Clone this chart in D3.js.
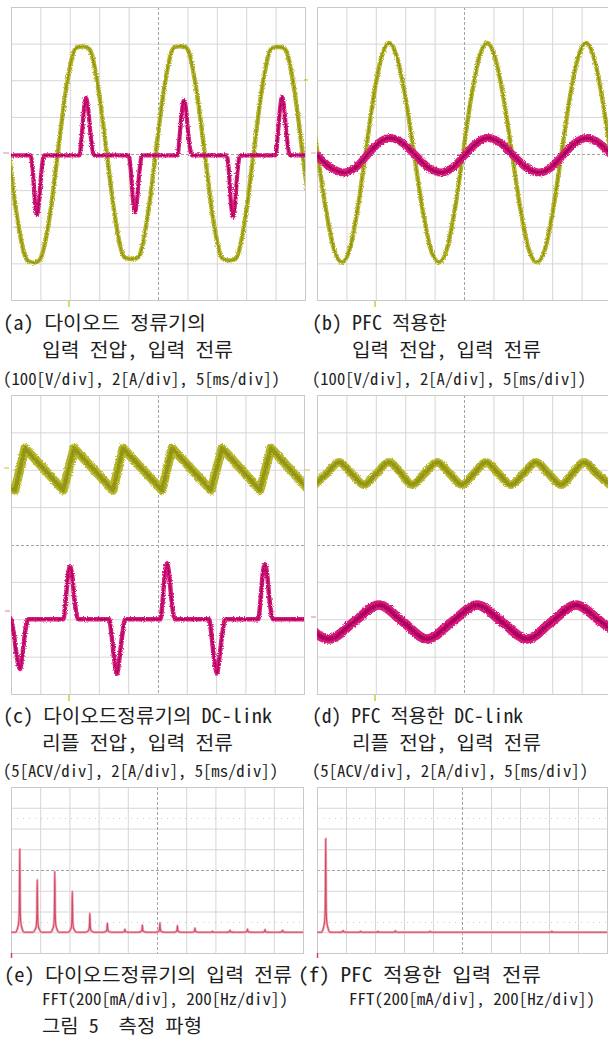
<!DOCTYPE html>
<html><head><meta charset="utf-8">
<script src="https://cdn.jsdelivr.net/npm/d3@7/dist/d3.min.js"></script>
<style>html,body{margin:0;padding:0;background:#fff}svg{display:block}</style>
</head><body>
<script>
// ================= DATA =================
// time in ms (5 ms/div), voltage in V, current in A
const voltA = [[-0.36,0],[1.0,-170],[2.4,-280],[2.95,-294],[3.8,-298],[4.65,-294],[5.2,-280],[6.6,-170],[7.96,0],
 [9.32,170],[10.72,280],[11.27,290],[12.12,292],[12.97,290],[13.52,280],[14.92,170],[16.29,0],
 [17.65,-170],[19.05,-278],[19.6,-286],[20.45,-288],[21.3,-286],[21.85,-278],[23.25,-170],[24.61,0],
 [25.97,170],[27.37,280],[27.92,291],[28.77,293],[29.62,291],[30.17,280],[31.57,170],[32.94,0],
 [34.3,-170],[35.7,-280],[36.25,-290],[37.1,-292],[37.95,-290],[38.5,-280],[39.9,-170],[41.26,0],
 [42.62,170],[44.02,280],[44.57,289],[45.42,291],[46.27,289],[46.82,280],[48.22,170],[49.59,0],[50.95,-170]];
const currA = [[0,-0.1],[3.32,-0.1],[3.67,-0.8],[4.07,-2.6],[4.42,-3.36],[4.77,-2.6],[5.17,-1.0],[5.62,-0.1],
 [11.66,-0.1],[12.01,0.9],[12.41,2.4],[12.76,3.04],[13.11,2.5],[13.51,1.1],[14.11,-0.1],
 [19.99,-0.1],[20.34,-0.8],[20.74,-2.5],[21.09,-3.2],[21.44,-2.5],[21.84,-1.0],[22.29,-0.1],
 [28.32,-0.1],[28.67,0.9],[29.07,2.3],[29.42,2.92],[29.77,2.4],[30.17,1.0],[30.77,-0.1],
 [36.66,-0.1],[37.01,-0.8],[37.41,-2.7],[37.76,-3.46],[38.11,-2.7],[38.51,-1.0],[38.96,-0.1],
 [44.99,-0.1],[45.34,0.9],[45.74,2.4],[46.09,3.1],[46.44,2.5],[46.84,1.1],[47.44,-0.1],[50,-0.1]];
const voltB = [[-1.28,150],[0.1,0],[1.48,-150],[2.87,-260],[4.25,-297],[5.58,-260],[6.92,-150],[8.25,0],
 [9.58,150],[10.91,260],[12.24,302],[13.66,260],[15.08,150],[16.5,0],[17.92,-150],[19.33,-260],[20.75,-297],
 [22.11,-260],[23.47,-150],[24.83,0],[26.19,150],[27.55,260],[28.91,302],[30.33,260],[31.74,150],[33.16,0],
 [34.58,-150],[35.99,-260],[37.41,-297],[38.8,-260],[40.19,-150],[41.58,0],[42.97,150],[44.36,260],[45.75,302],
 [47.13,260],[48.52,150],[49.9,0],[51.3,-150]];
const currB = [[0.0,-0.1],[2.3,-0.76],[4.6,-1.04],[6.6,-0.76],[8.5,-0.1],[10.45,0.56],[12.4,0.84],[14.6,0.56],
 [16.75,-0.1],[18.9,-0.76],[21.1,-1.04],[23.1,-0.76],[25.1,-0.1],[27.1,0.56],[29.1,0.84],[31.25,0.56],
 [33.4,-0.1],[35.6,-0.76],[37.76,-1.04],[39.8,-0.76],[41.8,-0.1],[43.85,0.56],[45.9,0.84],[48.0,0.56],[50.1,-0.1]];
// DC-link ripple voltage (AC, V) and input current (A)
const rippleC = [[-0.5,-2.3],[0.68,-2.75],[2.39,2.9],[8.92,-2.75],[10.75,2.9],[17.41,-2.75],[19.11,2.9],
 [25.77,-2.75],[27.47,2.9],[34.13,-2.75],[36.01,2.9],[42.49,-2.75],[44.37,2.9],[50.85,-2.75]];
const currC = [[0,0],[0.45,-0.7],[0.95,-1.9],[1.54,-2.66],[1.95,-1.9],[2.45,-0.6],[2.95,0],
 [8.95,0],[9.3,0.9],[9.7,2.3],[10.07,2.84],[10.42,2.36],[10.82,1.1],[11.42,0],
 [16.75,0],[17.15,-0.8],[17.6,-2.1],[18.09,-2.92],[18.5,-2.1],[19.0,-0.8],[19.5,0],
 [25.5,0],[25.85,0.9],[26.25,2.4],[26.62,3.0],[26.97,2.44],[27.37,1.1],[27.97,0],
 [33.8,0],[34.2,-0.8],[34.65,-2.1],[35.15,-2.9],[35.55,-2.1],[36.05,-0.8],[36.55,0],
 [42.2,0],[42.55,0.9],[42.95,2.4],[43.34,2.94],[43.7,2.4],[44.1,1.1],[44.7,0],[50,0]];
const rippleD = [[-0.4,-1.5],[1.67,0],[3.74,1.5],[5.87,0],[7.99,-1.5],[10.12,0],[12.24,1.5],[14.33,0],
 [16.16,-1.5],[18.29,0],[20.41,1.5],[22.54,0],[24.66,-1.5],[26.7,0],[28.74,1.5],[30.87,0],[32.99,-1.5],
 [35.12,0],[37.24,1.5],[39.37,0],[41.5,-1.5],[43.45,0],[45.41,1.5],[47.6,0],[49.8,-1.5]];
const currD = [[-2.2,0],[2.04,-0.92],[6.29,0],[10.54,0.9],[14.62,0],[18.71,-0.92],[22.96,0],[27.21,0.9],
 [31.46,0],[35.71,-0.92],[39.88,0],[44.05,0.9],[48.3,0],[52.55,-0.92]];
// FFT of input current: harmonic frequency (Hz) and amplitude (mA)
const fftFreqE = [60,180,300,420,540,660,780,900,1020,1140,1260,1380,1500,1620,1740,1860];
const fftAmpE  = [800,508,588,394,184,88,28,70,92,64,40,8,20,30,26,20];
const fftFreqF = [60,180,300,420,540,780,1620];
const fftAmpF  = [900,16,10,8,14,10,8];
// grid (tick) values
const timeGrid = [5,10,15,20,30,35,40,45];
const freqGrid = [200,400,600,800,1200,1400,1600,1800];
const divGrid = [-3,-2,-1,1,2,3];
// caption texts
const captionText = [
 "(a) 다이오드 정류기의","입력 전압, 입력 전류","(100[V/div], 2[A/div], 5[ms/div])",
 "(b) PFC 적용한","입력 전압, 입력 전류","(100[V/div], 2[A/div], 5[ms/div])",
 "(c) 다이오드정류기의 DC-link","리플 전압, 입력 전류","(5[ACV/div], 2[A/div], 5[ms/div])",
 "(d) PFC 적용한 DC-link","리플 전압, 입력 전류","(5[ACV/div], 2[A/div], 5[ms/div])",
 "(e) 다이오드정류기의 입력 전류","FFT(200[mA/div], 200[Hz/div])","그림 5  측정 파형",
 "(f) PFC 적용한 입력 전류","FFT(200[mA/div], 200[Hz/div])"];

// ================= DRAWING =================
const W = 608, H = 1041;
const svg = d3.select("body").append("svg").attr("width", W).attr("height", H);
const defs = svg.append("defs");
const flt = defs.append("filter").attr("id","fuzz").attr("filterUnits","userSpaceOnUse")
  .attr("x",0).attr("y",0).attr("width",W).attr("height",H);
flt.append("feTurbulence").attr("type","fractalNoise").attr("baseFrequency","0.9").attr("numOctaves",1).attr("seed",5).attr("result","n");
flt.append("feDisplacementMap").attr("in","SourceGraphic").attr("in2","n").attr("scale",3.5)
  .attr("xChannelSelector","R").attr("yChannelSelector","G");

const GRID = "#d6d6d6", BORDER = "#c9c9c9", CENTER = "#a3a3a3";
const VCOL = "#b6b62c", VCORE = "#8c8c12", ICOL = "#d81b7c", ICORE = "#a3005a";

function panel(id, box, xDomain, xGrid) {
  const x = d3.scaleLinear().domain(xDomain).range([box.l, box.r]);
  const yDiv = d3.scaleLinear().domain([-4, 4]).range([box.b, box.t]);
  const w = box.r - box.l, h = box.b - box.t;
  const g = svg.append("g");
  defs.append("clipPath").attr("id", "clip" + id).append("rect")
    .attr("x", box.l).attr("y", box.t).attr("width", w).attr("height", h);
  g.append("g").attr("transform", `translate(0,${box.b})`)
    .call(d3.axisBottom(x).tickValues(xGrid).tickSize(-h).tickFormat(""))
    .call(s => { s.select(".domain").remove(); s.selectAll(".tick line").attr("stroke", GRID); });
  g.append("g").attr("transform", `translate(${box.l},0)`)
    .call(d3.axisLeft(yDiv).tickValues(divGrid).tickSize(-w).tickFormat(""))
    .call(s => { s.select(".domain").remove(); s.selectAll(".tick line").attr("stroke", GRID); });
  const xc = Math.round(x((xDomain[0] + xDomain[1]) / 2)) + 0.5, yc = Math.round(yDiv(0)) + 0.5;
  g.append("line").attr("x1", xc).attr("x2", xc).attr("y1", box.t).attr("y2", box.b)
    .attr("stroke", CENTER).attr("stroke-dasharray", "3,2");
  g.append("line").attr("x1", box.l).attr("x2", box.r).attr("y1", yc).attr("y2", yc)
    .attr("stroke", CENTER).attr("stroke-dasharray", "3,2");
  g.append("rect").attr("x", box.l + 0.5).attr("y", box.t + 0.5).attr("width", w).attr("height", h)
    .attr("fill", "none").attr("stroke", BORDER);
  const traces = g.append("g").attr("clip-path", `url(#clip${id})`);
  return { x, yDiv, g, traces, box };
}

function trace(P, data, y, col, core, w, cw, curve) {
  const line = d3.line().x(d => P.x(d[0])).y(d => y(d[1])).curve(curve);
  const gg = P.traces.append("g").attr("filter", "url(#fuzz)");
  gg.append("path").attr("d", line(data)).attr("fill", "none").attr("stroke", col)
    .attr("stroke-width", w).attr("stroke-linejoin", "round").attr("stroke-linecap", "round");
  gg.append("path").attr("d", line(data)).attr("fill", "none").attr("stroke", core)
    .attr("stroke-width", cw).attr("stroke-linejoin", "round").attr("stroke-opacity", 0.8);
}

function marker(x1, y1, x2, y2, col, wd) {
  svg.append("line").attr("x1", x1).attr("y1", y1).attr("x2", x2).attr("y2", y2)
    .attr("stroke", col).attr("stroke-width", wd || 1.5);
}

// -------- panel (a)
const A = panel("a", {l: 11, r: 305, t: 7, b: 300}, [0, 50], timeGrid);
trace(A, voltA, d3.scaleLinear().domain([-400, 400]).range([300, 7]), VCOL, VCORE, 4.5, 1.6, d3.curveMonotoneX);
trace(A, currA, d3.scaleLinear().domain([-8, 8]).range([300, 7]), ICOL, ICORE, 4.2, 1.5, d3.curveMonotoneX);
// -------- panel (b)
const B = panel("b", {l: 317, r: 611, t: 7, b: 300}, [0, 50], timeGrid);
trace(B, voltB, d3.scaleLinear().domain([-400, 400]).range([300, 7]), VCOL, VCORE, 4.5, 1.6, d3.curveMonotoneX);
trace(B, currB, d3.scaleLinear().domain([-8, 8]).range([300, 7]), ICOL, ICORE, 8, 3, d3.curveMonotoneX);
// -------- panel (c): ripple offset +2 div (5 V/div), current offset -2 div (2 A/div)
const C = panel("c", {l: 11, r: 304, t: 395, b: 694}, [0, 50], timeGrid);
trace(C, rippleC, d3.scaleLinear().domain([-30, 10]).range([694, 395]), VCOL, VCORE, 9, 4, d3.curveLinear);
trace(C, currC, d3.scaleLinear().domain([-4, 12]).range([694, 395]), ICOL, ICORE, 4.5, 1.6, d3.curveMonotoneX);
// -------- panel (d): ripple offset +1.9 div, current offset -2.07 div
const D = panel("d", {l: 317, r: 611, t: 395, b: 694}, [0, 50], timeGrid);
trace(D, rippleD, d3.scaleLinear().domain([-29.5, 10.5]).range([694, 395]), VCOL, VCORE, 8.5, 4, d3.curveMonotoneX);
trace(D, currD, d3.scaleLinear().domain([-3.86, 12.14]).range([694, 395]), ICOL, ICORE, 9.5, 4, d3.curveMonotoneX);

// -------- FFT panels (baseline 1 div above bottom)
const peakShape = [[-30,0],[-15,0.05],[-7,0.12],[-3,0.32],[0,1],[3,0.32],[7,0.12],[15,0.05],[30,0]];
function fft(id, box, freqs, amps) {
  const P = panel(id, box, [0, 2000], freqGrid);
  const y = d3.scaleLinear().domain([-200, 1400]).range([box.b, box.t]);
  P.g.insert("g", "rect").selectAll("line").data([100, 1100]).join("line")
    .attr("x1", box.l).attr("x2", box.r).attr("y1", d => Math.round(y(d)) + 0.5).attr("y2", d => Math.round(y(d)) + 0.5)
    .attr("stroke", "#cfcfcf").attr("stroke-dasharray", "1,5");
  const pts = [[0, 0]];
  freqs.forEach((f, i) => peakShape.forEach(k => pts.push([f + k[0], amps[i] * k[1]])));
  pts.push([2000, 0]);
  const line = d3.line().x(d => P.x(d[0])).y(d => y(d[1])).curve(d3.curveMonotoneX);
  P.traces.append("path").attr("d", line(pts)).attr("fill", "none").attr("stroke", "#f2b3c0").attr("stroke-width", 2.6);
  P.traces.append("path").attr("d", line(pts)).attr("fill", "none").attr("stroke", "#d44a64").attr("stroke-width", 1.1);
  return P;
}
fft("e", {l: 11, r: 303, t: 787, b: 953}, fftFreqE, fftAmpE);
fft("f", {l: 317, r: 607, t: 787, b: 953}, fftFreqF, fftAmpF);

// -------- scope markers (trigger / channel)
[69, 375].forEach(xx => { marker(xx, 301, xx, 307, "#cccc30"); marker(xx, 695, xx, 701, "#cccc30"); });
[11, 317].forEach(xx => marker(xx + 0.5, 953, xx + 0.5, 958, "#e0405a"));
marker(3, 153, 9, 153, "#e8b0c0"); marker(304, 80, 308, 80, "#cccc40"); marker(311, 153, 316, 153, "#d0d0d0");
marker(4, 468, 9, 468, "#d8d870"); marker(5, 611, 10, 611, "#e8a8c8");
marker(305, 470, 310, 470, "#d8d870"); marker(311, 617, 316, 617, "#e8a8c8");

// ================= CAPTIONS =================
const FONT = "'Noto Sans Mono CJK KR','Noto Sans CJK KR','Noto Sans',sans-serif";
const capLayout = [
 [3,330,19.5,203],[42,357,19.5,191],[3,385,16.5,277],
 [312,330,19.5,135],[352,357,19.5,189],[312,385,16.5,274],
 [3,723,19.5,269],[42,750,19.5,191],[3,777,16.5,275],
 [312,723,19.5,211],[352,750,19.5,189],[312,777,16.5,276],
 [4,982,19.5,288],[42,1005,16,246],[42,1033,19,160],
 [298,982,19.5,243],[349,1005,16,246]];
svg.append("g").selectAll("text").data(captionText).join("text")
  .attr("x", (d, i) => capLayout[i][0]).attr("y", (d, i) => capLayout[i][1])
  .attr("font-size", (d, i) => capLayout[i][2]).attr("textLength", (d, i) => capLayout[i][3])
  .attr("lengthAdjust", "spacingAndGlyphs")
  .attr("font-family", FONT).attr("fill", "#1e1e1e").style("white-space", "pre")
  .text(d => d);
</script>
</body></html>
